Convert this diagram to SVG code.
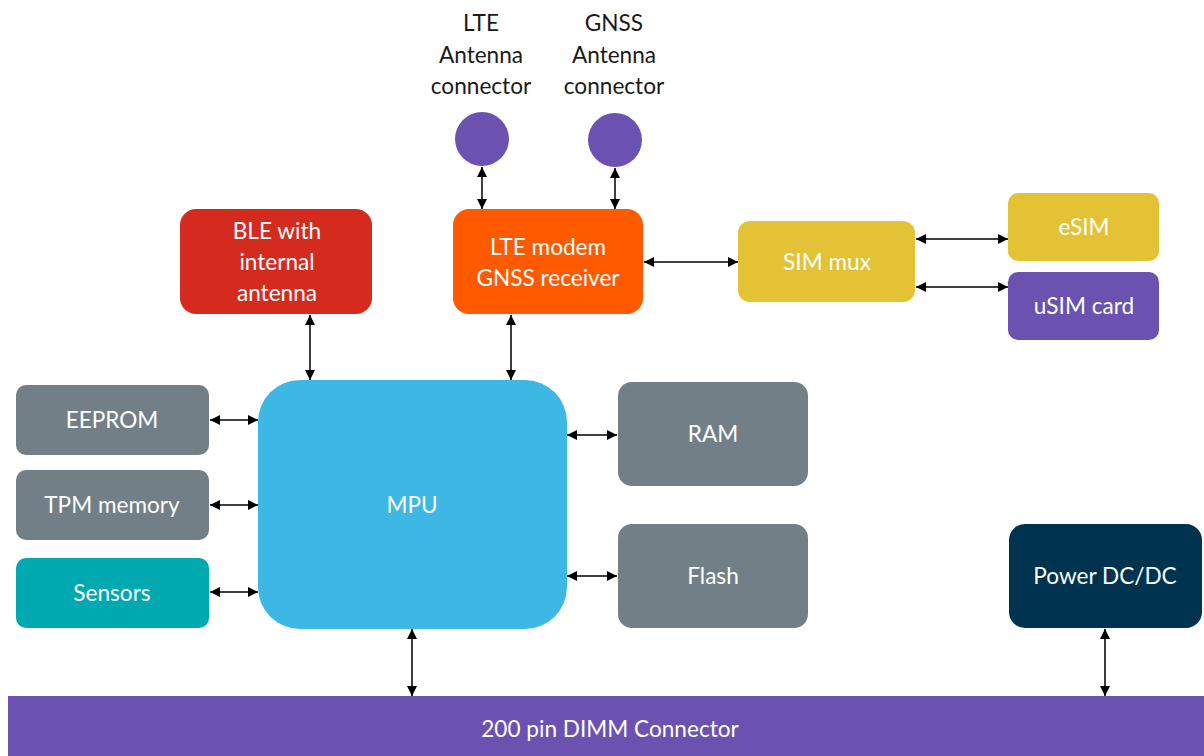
<svg xmlns="http://www.w3.org/2000/svg" width="1204" height="756" viewBox="0 0 1204 756">
<defs>
<marker id="ah" viewBox="0 0 10 10" refX="10" refY="5" markerWidth="10" markerHeight="10" markerUnits="userSpaceOnUse" orient="auto-start-reverse">
<path d="M0,0 L10,5 L0,10 z" fill="#000"/>
</marker>
<style>
text{font-family:Lato,"Open Sans","Liberation Sans",sans-serif;font-size:22.6px;text-anchor:middle;dominant-baseline:central}
.w{fill:#fff}
.k{fill:#1a1a1a}
.c{stroke:#000;stroke-width:1.5;fill:none;marker-start:url(#ah);marker-end:url(#ah)}
.gray{fill:#737F86}
.yel{fill:#E4C236}
.pur{fill:#6B52B0}
</style>
</defs>
<rect width="1204" height="756" fill="#fff"/>
<g id="lte-ant">
<text class="k" x="481" y="22">LTE</text>
<text class="k" x="481" y="54">Antenna</text>
<text class="k" x="481" y="85">connector</text>
<circle cx="482" cy="139" r="27" class="pur"/>
</g>
<g id="gnss-ant">
<text class="k" x="614" y="22">GNSS</text>
<text class="k" x="614" y="54">Antenna</text>
<text class="k" x="614" y="85">connector</text>
<circle cx="615" cy="140" r="27" class="pur"/>
</g>
<g id="ble">
<rect x="180" y="209" width="192" height="105" rx="16" fill="#D52B1E"/>
<text class="w" x="277" y="230">BLE with</text>
<text class="w" x="277" y="261">internal</text>
<text class="w" x="277" y="292">antenna</text>
</g>
<g id="lte-modem">
<rect x="453" y="209" width="190" height="105" rx="16" fill="#FF5A00"/>
<text class="w" x="548" y="246">LTE modem</text>
<text class="w" x="548" y="277">GNSS receiver</text>
</g>
<g id="sim-mux">
<rect x="738" y="221" width="177" height="81" rx="12" class="yel"/>
<text class="w" x="827" y="261">SIM mux</text>
</g>
<g id="esim">
<rect x="1008" y="193" width="151" height="68" rx="10" class="yel"/>
<text class="w" x="1084" y="226">eSIM</text>
</g>
<g id="usim">
<rect x="1008" y="272" width="151" height="68" rx="10" class="pur"/>
<text class="w" x="1084" y="305">uSIM card</text>
</g>
<g id="mpu">
<rect x="258" y="380" width="309" height="249" rx="42" fill="#3DB8E4"/>
<text class="w" x="412" y="504">MPU</text>
</g>
<g id="eeprom">
<rect x="16" y="385" width="193" height="70" rx="10" class="gray"/>
<text class="w" x="112" y="419">EEPROM</text>
</g>
<g id="tpm">
<rect x="16" y="470" width="193" height="70" rx="10" class="gray"/>
<text class="w" x="112" y="504">TPM memory</text>
</g>
<g id="sensors">
<rect x="16" y="558" width="193" height="70" rx="10" fill="#00A8B0"/>
<text class="w" x="112" y="592">Sensors</text>
</g>
<g id="ram">
<rect x="618" y="382" width="190" height="104" rx="14" class="gray"/>
<text class="w" x="713" y="433">RAM</text>
</g>
<g id="flash">
<rect x="618" y="524" width="190" height="104" rx="14" class="gray"/>
<text class="w" x="713" y="575">Flash</text>
</g>
<g id="power">
<rect x="1009" y="524" width="193" height="104" rx="16" fill="#003350"/>
<text class="w" x="1105" y="575">Power DC/DC</text>
</g>
<g id="dimm">
<rect x="8" y="696" width="1196" height="60" class="pur"/>
<text class="w" x="610" y="728">200 pin DIMM Connector</text>
</g>
<g id="connectors">
<line class="c" x1="482" y1="167" x2="482" y2="209"/>
<line class="c" x1="615" y1="168" x2="615" y2="209"/>
<line class="c" x1="644" y1="262" x2="738" y2="262"/>
<line class="c" x1="916" y1="239" x2="1008" y2="239"/>
<line class="c" x1="916" y1="287" x2="1008" y2="287"/>
<line class="c" x1="310" y1="315" x2="310" y2="380"/>
<line class="c" x1="511" y1="315" x2="511" y2="380"/>
<line class="c" x1="210" y1="420" x2="258" y2="420"/>
<line class="c" x1="210" y1="505" x2="258" y2="505"/>
<line class="c" x1="210" y1="592" x2="258" y2="592"/>
<line class="c" x1="567" y1="435" x2="617" y2="435"/>
<line class="c" x1="567" y1="576" x2="617" y2="576"/>
<line class="c" x1="412" y1="629" x2="412" y2="696"/>
<line class="c" x1="1105" y1="629" x2="1105" y2="696"/>
</g>
</svg>
